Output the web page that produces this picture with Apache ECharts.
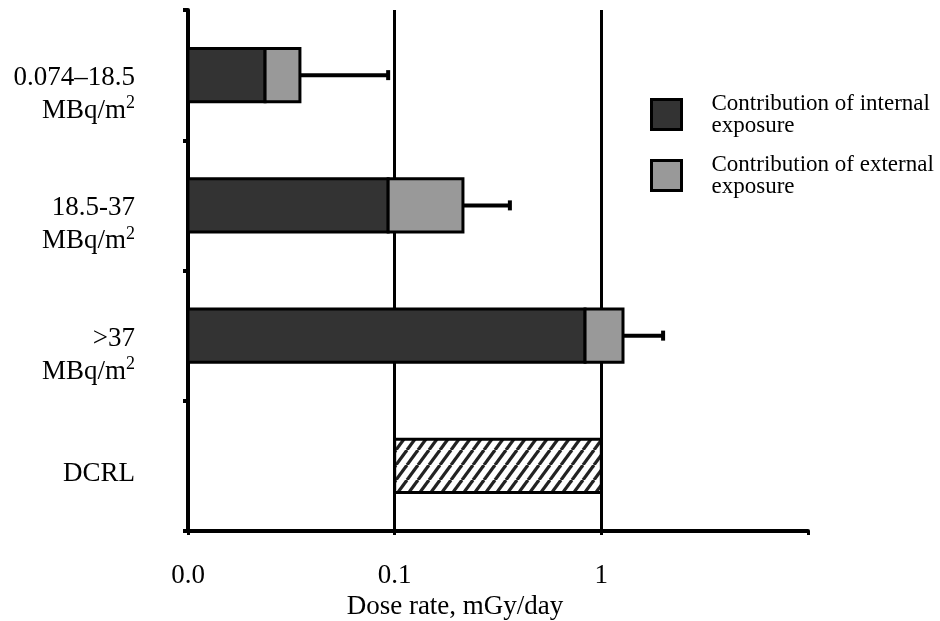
<!DOCTYPE html>
<html><head><meta charset="utf-8">
<script src="https://cdn.jsdelivr.net/npm/echarts@6/dist/echarts.min.js"></script>
<style>html,body{margin:0;padding:0;background:#fff}#c{width:940px;height:621px}</style>
</head><body><div id="c"></div>
<script>
// ---- data ----
const categories = ['0.074–18.5\nMBq/m2', '18.5-37\nMBq/m2', '>37\nMBq/m2', 'DCRL'];
const internalDose = [0.0236, 0.093, 0.834];      // mGy/day
const externalDose = [0.0112, 0.121, 0.439];      // contribution added on top
const errorUpper   = [0.093, 0.361, 1.99];        // upper end of error bar
const dcrlRange    = [0.1, 1];
const xTickLabels  = ['0.0', '0.1', '1', ''];
const xMin = 0.01, xMax = 10;
const legendNames = ['Contribution of internal\nexposure', 'Contribution of external\nexposure'];

// ---- hatch pattern ----
function makeHatch() {
  const p = 11, q = 15;
  const cv = document.createElement('canvas');
  cv.width = p; cv.height = q;
  const ctx = cv.getContext('2d');
  ctx.fillStyle = '#fff'; ctx.fillRect(0, 0, p, q);
  ctx.strokeStyle = '#222'; ctx.lineWidth = 3.2;
  for (let k = -1; k <= 1; k++) {
    ctx.beginPath(); ctx.moveTo(k * p, q); ctx.lineTo(k * p + p, 0); ctx.stroke();
  }
  return cv;
}
const hatch = makeHatch();

const BAR_FRAC = 0.41;
function rectItem(fill) {
  return function (params, api) {
    const cat = api.value(0);
    const a = api.coord([api.value(1), cat]);
    const b = api.coord([api.value(2), cat]);
    const h = api.size([0, 1])[1] * BAR_FRAC;
    return {
      type: 'rect',
      shape: { x: a[0], y: a[1] - h / 2, width: b[0] - a[0], height: h },
      style: { fill: fill, stroke: '#000', lineWidth: 3 }
    };
  };
}

// category label -> rich text (units with superscript, small spacer line to sit the text slightly low)
function catLabel(v) {
  const lines = v.split('\n');
  if (lines.length === 1) return '{sp1| }\n{t|' + lines[0] + '}';
  const unit = lines[1].replace(/2$/, '');
  return '{sp2| }\n{t|' + lines[0] + '}\n{t|' + unit + '}{sup|2}';
}

const internalData = internalDose.map((v, i) => [i, xMin, v]);
const externalData = internalDose.map((v, i) => [i, v, v + externalDose[i]]);
const errorData = internalDose.map((v, i) => [i, v + externalDose[i], errorUpper[i]]);
const dcrlData = [[3, dcrlRange[0], dcrlRange[1]]];

const chart = echarts.init(document.getElementById('c'), null, { renderer: 'canvas' });
chart.setOption({
  animation: false,
  backgroundColor: '#fff',
  textStyle: { fontFamily: 'Liberation Serif', color: '#000' },
  grid: { left: 188, top: 10, right: 132, bottom: 90, outerBoundsMode: 'none', containLabel: false },
  legend: {
    orient: 'vertical', left: 650, top: 92, padding: 0,
    itemWidth: 30, itemHeight: 30, itemGap: 16,
    icon: 'rect', selectedMode: false,
    textStyle: { fontFamily: 'Liberation Serif', fontSize: 23, lineHeight: 22, color: '#000', padding: [0, 0, 0, 25] },
    data: [
      { name: legendNames[0], itemStyle: { color: '#333333', borderColor: '#000', borderWidth: 3 } },
      { name: legendNames[1], itemStyle: { color: '#999999', borderColor: '#000', borderWidth: 3 } }
    ]
  },
  xAxis: {
    type: 'log', logBase: 10, min: xMin, max: xMax,
    name: 'Dose rate, mGy/day', nameLocation: 'middle', nameGap: 57,
    nameTextStyle: { fontFamily: 'Liberation Serif', fontSize: 27, color: '#000', padding: [0, 86, 0, 0] },
    axisLine: { show: true, lineStyle: { color: '#000', width: 4 } },
    axisTick: { show: true, length: 4, lineStyle: { color: '#000', width: 3 } },
    axisLabel: {
      fontFamily: 'Liberation Serif', fontSize: 27, color: '#000', margin: 31,
      formatter: v => xTickLabels[Math.round(Math.log10(v)) + 2]
    },
    splitLine: { show: true, showMinLine: false, showMaxLine: false, lineStyle: { color: '#000', width: 3 } }
  },
  yAxis: {
    type: 'category', inverse: true,
    data: categories,
    axisLine: { show: true, lineStyle: { color: '#000', width: 4 } },
    axisTick: { show: true, length: 5, lineStyle: { color: '#000', width: 4 } },
    axisLabel: {
      interval: 0, margin: 53, color: '#000', align: 'right',
      formatter: catLabel,
      rich: {
        sp1: { fontSize: 10, lineHeight: 17 },
        sp2: { fontSize: 10, lineHeight: 39 },
        t: { fontFamily: 'Liberation Serif', fontSize: 27, lineHeight: 33, color: '#000', align: 'right' },
        sup: { fontFamily: 'Liberation Serif', fontSize: 18, lineHeight: 12, verticalAlign: 'top', color: '#000', align: 'right' }
      }
    },
    splitLine: { show: false }
  },
  series: [
    { name: legendNames[0], type: 'custom', renderItem: rectItem('#333333'), encode: { x: [1, 2], y: 0 }, data: internalData, itemStyle: { color: '#333333' }, z: 3 },
    { name: legendNames[1], type: 'custom', renderItem: rectItem('#999999'), encode: { x: [1, 2], y: 0 }, data: externalData, itemStyle: { color: '#999999' }, z: 3 },
    { name: 'DCRL', type: 'custom', renderItem: rectItem({ image: hatch, repeat: 'repeat' }), encode: { x: [1, 2], y: 0 }, data: dcrlData, z: 3 },
    {
      name: 'error', type: 'custom', encode: { x: [1, 2], y: 0 }, data: errorData, z: 2,
      renderItem: function (params, api) {
        const cat = api.value(0);
        const a = api.coord([api.value(1), cat]);
        const b = api.coord([api.value(2), cat]);
        return {
          type: 'group', children: [
            { type: 'line', shape: { x1: a[0], y1: a[1], x2: b[0], y2: b[1] }, style: { stroke: '#000', lineWidth: 4 } },
            { type: 'line', shape: { x1: b[0], y1: b[1] - 5, x2: b[0], y2: b[1] + 5 }, style: { stroke: '#000', lineWidth: 4 } }
          ]
        };
      }
    }
  ]
});
</script></body></html>
